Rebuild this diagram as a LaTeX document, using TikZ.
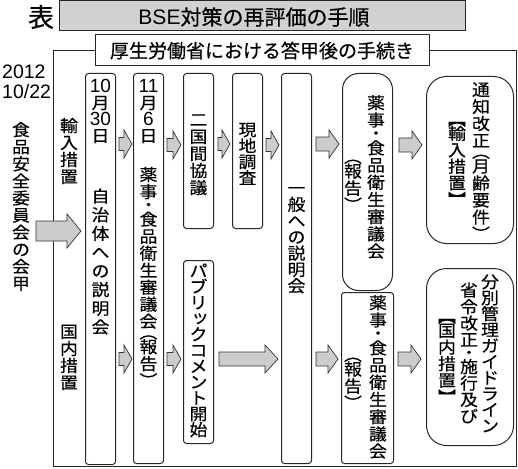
\documentclass[tikz,border=0pt]{standalone}
\usepackage{fontspec}
\usetikzlibrary{calc}
\setmainfont[FakeBold=0.5]{Noto Sans CJK JP}
\newfontfamily\jp[FakeStretch=1.08,FakeBold=0.5]{Noto Sans CJK JP}
\newfontfamily\ar{Liberation Sans}
\newlength\vp
\newcommand\F[1]{\hbox to 1.4em{\hss\vrule width0pt height .86\vp depth .14\vp\smash{#1}\hss}}
\newcommand\Hc[2]{\hbox to 1.4em{\hss\vrule width0pt height .5\vp depth 0pt\raisebox{#2}{\smash{#1}}\hss}}
\def\vtend{VTEND}
\def\vtc#1{\ifx#1・\Hc{・}{-.13em}\else
  \ifx#1（\Hc{︵}{0em}\else
  \ifx#1）\Hc{︶}{-.37em}\else
  \ifx#1【\Hc{︻}{0em}\else
  \ifx#1】\Hc{︼}{-.37em}\else
  \ifx#1ッ\F{\raisebox{.1em}{\kern.2em ッ}}\else
  \F{#1}\fi\fi\fi\fi\fi\fi}
\def\vtl#1{\ifx#1\vtend\else\vtc{#1}\expandafter\vtl\fi}
\newcommand\vt[2][16.5pt]{\vbox{\offinterlineskip\vp=#1\relax\vtl#2\vtend}}
\newcommand\dg[1]{{\ar\fontsize{19}{19}\selectfont #1}}
\newcommand\blk[8]{%
  \coordinate (bs) at ($(#1 |- 0,#5)+(#2,0)$);
  \coordinate (be) at ($(#3 |- 0,#5)+(#4,0)$);
  \draw[barrow] ($(bs)+(0,-#6)$) -- ($(be)+(-#8,-#6)$) -- ($(be)+(-#8,-#7)$) -- (be)
    -- ($(be)+(-#8,#7)$) -- ($(be)+(-#8,#6)$) -- ($(bs)+(0,#6)$) -- cycle;}
\tikzset{
  box/.style={draw=black!85, line width=1pt, rounded corners=3pt, anchor=north west, inner sep=0pt},
  rbox/.style={box, rounded corners=#1},
  vtx/.style={inner sep=0pt, anchor=north, font=\jp\fontsize{16.5}{16.5}\selectfont},
  barrow/.style={draw=black!80, fill=black!20, line width=0.7pt, line join=miter},
  frame/.style={draw=black!85, line width=1pt},
}
\begin{document}
\begin{tikzpicture}[x=1pt,y=-1pt]
\useasboundingbox (0,0) rectangle (518,468);
% title
\node[font=\fontsize{26}{26}\selectfont, inner sep=0pt] (hyo) at (41,17) {表};
\node[draw=black!85, fill=black!18, line width=1pt, minimum width=406, minimum height=30, inner sep=0pt] (title) at (262,16) {};
\node[font=\fontsize{21}{21}\selectfont, inner sep=0pt] (ttext) at (254,17) {{\ar BSE}対策の再評価の手順};
% frame
\draw[frame] (53,51) rectangle (516,466);
\node[draw=black!85, fill=white, line width=1pt, minimum width=334, minimum height=31, inner sep=0pt,
  font=\fontsize{19}{19}\selectfont] (sub) at (262,50.5) {厚生労働省における答甲後の手続き};
% left side
\node[anchor=base west, inner sep=0pt, font=\ar\fontsize{19.5}{19.5}\selectfont] (yr) at (2,79) {2012};
\node[anchor=base west, inner sep=0pt, font=\ar\fontsize{19.5}{19.5}\selectfont] (dt) at (2,99) {10/22};
\node[vtx] (tl) at (21,121) {\vt[17.1pt]{食品安全委員会の会甲}};
\node[vtx] (yn) at (69,117) {\vt[17pt]{輸入措置}};
\node[vtx] (kn) at (69,323) {\vt[17pt]{国内措置}};
% boxes
\node[box, minimum width=30, minimum height=391] (b1) at (85,73) {};
\node[box, minimum width=30, minimum height=390] (b2) at (133,73) {};
\node[box, minimum width=30, minimum height=155] (b3) at (183,73) {};
\node[box, minimum width=30, minimum height=155] (b4) at (232,73) {};
\node[box, minimum width=30, minimum height=390] (b5) at (281,73) {};
\node[box, minimum width=30, minimum height=183] (b6) at (183,260) {};
\node[rbox=16pt, minimum width=50, minimum height=217] (b7) at (342,73) {};
\node[box, minimum width=52, minimum height=171] (b8) at (341,292) {};
\node[rbox=20pt, minimum width=87, minimum height=167] (b9) at (426,76) {};
\node[rbox=20pt, minimum width=87, minimum height=177] (b10) at (426,268) {};
% box texts
\node[vtx] (d1) at (b1.north |- 0,78) {\vbox{\offinterlineskip\vp=16.5pt \F{\dg{10}}\F{月}\F{\dg{30}}\F{日}}};
\node[vtx] (t1) at (b1.north |- 0,186) {\vt[18.7pt]{自治体への説明会}};
\node[vtx] (d2) at (b2.north |- 0,78) {\vbox{\offinterlineskip\vp=16.5pt \F{\dg{11}}\F{月}\F{\dg{6}}\F{日}}};
\node[vtx] (t2) at (b2.north |- 0,166) {\vt[17pt]{薬事・食品衛生審議会（報告）}};
\node[vtx] (t3) at (b3.north |- 0,111) {\vt[17pt]{二国間協議}};
\node[vtx] (t4) at (b4.north |- 0,122) {\vt[16pt]{現地調査}};
\node[vtx] (t5) at (b5.north |- 0,180) {\vt[16.3pt]{一般への説明会}};
\node[vtx] (t6) at (b6.north |- 0,263) {\vt[15.9pt]{パブリックコメント開始}};
\node[vtx] (t7a) at (376,94) {\vt[17.2pt]{薬事・食品衛生審議会}};
\node[vtx] (t7b) at (353,154) {\vt[17pt]{（報告）}};
\node[vtx] (t8a) at (378,294) {\vt[17.2pt]{薬事・食品衛生審議会}};
\node[vtx] (t8b) at (353,352) {\vt[17pt]{（報告）}};
\node[vtx] (t9a) at (481,81) {\vt[17pt]{通知改正（月齢要件）}};
\node[vtx] (t9b) at (457,117) {\vt[16.5pt]{【輸入措置】}};
\node[vtx] (t10a) at (490,274) {\vt[16pt]{分別管理ガイドライン}};
\node[vtx] (t10b) at (469,282) {\vt[16.5pt]{省令改正・施行及び}};
\node[vtx] (t10c) at (447,314) {\vt[16.6pt]{【国内措置】}};
% arrows
\coordinate (a0s) at (36,231);
\blk{a0s}{0}{b1.west}{-4}{231}{10}{17}{14}
\blk{b1.east}{3}{b2.west}{-1}{144}{6.5}{14}{8}
\blk{b1.east}{3}{b2.west}{-1}{359}{6.5}{14}{8}
\blk{b2.east}{3}{b3.west}{-2}{145}{6.5}{14}{8}
\blk{b2.east}{3}{b6.west}{-2}{359}{6.5}{14}{8}
\blk{b3.east}{4}{b4.west}{-2}{144}{6.5}{14}{8}
\blk{b4.east}{3}{b5.west}{-2}{145}{6.5}{14}{8}
\blk{b5.east}{4}{b7.west}{-3}{144}{7}{14}{10}
\blk{b6.east}{5}{b5.west}{-3}{359}{7}{14}{13}
\blk{b5.east}{4}{b8.west}{-3}{359}{7}{14}{10}
\blk{b7.east}{6}{b9.west}{-4}{145}{7}{14}{10}
\blk{b8.east}{4}{b10.west}{-5}{359}{7}{14}{10}
\end{tikzpicture}
\end{document}
